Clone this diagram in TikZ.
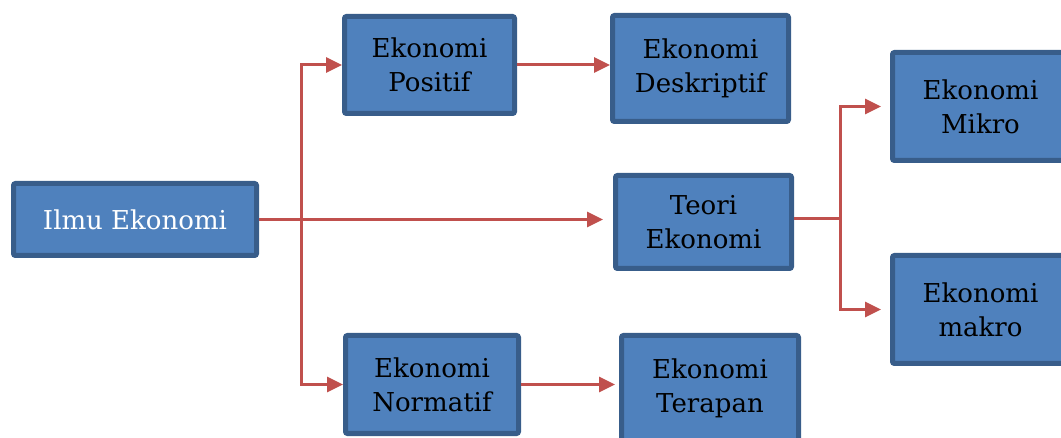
\documentclass[tikz,border=0pt]{standalone}
\usepackage{fontspec}
\setmainfont{DejaVu Serif}
\usetikzlibrary{arrows.meta}
\definecolor{boxfill}{HTML}{4F81BD}
\definecolor{boxline}{HTML}{385D8A}
\definecolor{connred}{HTML}{C0504D}
\tikzset{
  box/.style={draw=boxline, line width=5pt, fill=boxfill, rounded corners=2pt,
    align=center, inner sep=0pt, font=\fontsize{26}{34}\selectfont, text=black},
  conn/.style={draw=connred, line width=3pt,
    -{Triangle[length=16pt,width=15pt]}},
  plain/.style={draw=connred, line width=3pt},
}
\begin{document}
\begin{tikzpicture}[x=1pt,y=-1pt]
\useasboundingbox (0,0) rectangle (1061,438);
\clip (0,0) rectangle (1061,438);
\node[box, text=white, minimum width=243pt, minimum height=72pt] (ilmu) at (135,219.5) {Ilmu Ekonomi};
\node[box, minimum width=170pt, minimum height=97pt] (positif) at (429.5,65) {Ekonomi\\Positif};
\node[box, minimum width=176pt, minimum height=106pt] (deskriptif) at (700.5,68.5) {Ekonomi\\Deskriptif};
\node[box, minimum width=176pt, minimum height=93pt] (teori) at (703.5,222) {Teori\\Ekonomi};
\node[box, minimum width=176pt, minimum height=108pt] (mikro) at (980.5,106.5) {Ekonomi\\Mikro};
\node[box, minimum width=176pt, minimum height=108pt] (makro) at (980.5,309.5) {Ekonomi\\makro};
\node[box, minimum width=173pt, minimum height=98pt] (normatif) at (432,384.5) {Ekonomi\\Normatif};
\node[box, minimum width=177pt, minimum height=105pt] (terapan) at (710,388) {Ekonomi\\Terapan};
\coordinate (j1) at (301,219.5);
\coordinate (j2) at (840,219);
\draw[conn, shorten >=10pt] (ilmu.east) -- (ilmu.east -| teori.west);
\draw[conn] (j1) |- (positif.west);
\draw[conn] (j1) |- (normatif.west);
\draw[conn] (positif.east) -- (deskriptif.west |- positif.east);
\draw[conn, shorten >=4pt] (normatif.east) -- (terapan.west |- normatif.east);
\draw[plain] (teori.east |- j2) -- (j2);
\draw[conn, shorten >=9pt] (j2) |- (mikro.west);
\draw[conn, shorten >=9pt] (j2) |- (makro.west);
\end{tikzpicture}
\end{document}
